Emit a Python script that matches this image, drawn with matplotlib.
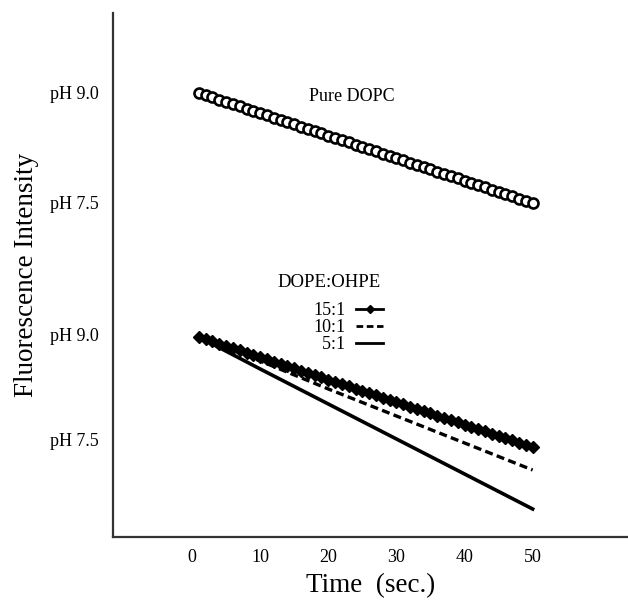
import matplotlib
matplotlib.use("Agg")
import matplotlib.pyplot as plt

plt.rcParams['font.family'] = ['Liberation Serif', 'DejaVu Serif']

# time points (sec.)
time = list(range(1, 51))

# fluorescence traces (arbitrary units)
pure_dopc = [44.4, 44.2, 44.0, 43.7, 43.5, 43.3, 43.1, 42.8, 42.6, 42.4,
             42.2, 41.9, 41.7, 41.5, 41.3, 41.0, 40.8, 40.6, 40.4, 40.1,
             39.9, 39.7, 39.5, 39.2, 39.0, 38.8, 38.6, 38.3, 38.1, 37.9,
             37.7, 37.4, 37.2, 37.0, 36.8, 36.5, 36.3, 36.1, 35.9, 35.6,
             35.4, 35.2, 35.0, 34.7, 34.5, 34.3, 34.1, 33.8, 33.6, 33.4]
ratio_15 = [20.0, 19.8, 19.6, 19.3, 19.1, 18.9, 18.7, 18.4, 18.2, 18.0,
            17.8, 17.5, 17.3, 17.1, 16.9, 16.6, 16.4, 16.2, 16.0, 15.7,
            15.5, 15.3, 15.1, 14.8, 14.6, 14.4, 14.2, 13.9, 13.7, 13.5,
            13.3, 13.0, 12.8, 12.6, 12.4, 12.1, 11.9, 11.7, 11.5, 11.2,
            11.0, 10.8, 10.6, 10.3, 10.1, 9.9, 9.7, 9.4, 9.2, 9.0]
time_sparse = [1, 10, 20, 30, 40, 50]
ratio_10 = [20.0, 17.6, 14.8, 12.1, 9.4, 6.7]
ratio_5 = [20.0, 16.8, 13.3, 9.8, 6.3, 2.8]

xticks = [0, 10, 20, 30, 40, 50]
yticks = [9.7, 20.2, 33.4, 44.4]
ylabels = ['pH 7.5', 'pH 9.0', 'pH 7.5', 'pH 9.0']

fig = plt.figure(figsize=(6.28, 6.01), dpi=100)
ax = fig.add_axes([0.18, 0.1065, 0.82, 0.872])

ax.plot(time, pure_dopc, color='black', lw=2, marker='o', ms=7.2,
        mfc='white', mec='black', mew=1.9)
ax.plot(time, ratio_15, color='black', lw=2, marker='D', ms=6,
        mfc='black', mec='black', label='15:1')
ax.plot(time_sparse, ratio_10, color='black', lw=2.4, ls=(0, (2.4, 1.3)),
        label='10:1')
ax.plot(time_sparse, ratio_5, color='black', lw=2.6, label='  5:1')

ax.text(23.5, 44.0, 'Pure DOPC', fontsize=13, ha='center', va='center')

# legend: title as plain text, entries right-aligned under it
ax.text(20.1, 25.4, 'DOPE:OHPE', fontsize=13.5, ha='center', va='center')
leg = ax.legend(frameon=False, markerfirst=False,
                fontsize=13, handlelength=1.5,
                handletextpad=0.6, labelspacing=0.0, borderpad=0,
                loc='upper right', bbox_to_anchor=(29.4, 24.4),
                bbox_transform=ax.transData)
for h in leg.legend_handles:
    h.set_markersize(4)
    h.set_linewidth(2)

ax.set_xlim(-11.6, 64)
ax.set_ylim(0, 52.4)
ax.set_xticks(xticks)
ax.set_yticks(yticks)
ax.set_yticklabels(ylabels)
ax.tick_params(length=0, labelsize=13)
ax.tick_params(axis='x', pad=9)
ax.tick_params(axis='y', pad=10)

for side in ['top', 'right']:
    ax.spines[side].set_visible(False)
for side in ['left', 'bottom']:
    ax.spines[side].set_linewidth(1.6)
    ax.spines[side].set_color('#333333')

ax.set_xlabel('Time  (sec.)', fontsize=19.5, labelpad=5)
ax.set_ylabel('Fluorescence Intensity', fontsize=19.5, labelpad=8)

fig.savefig('out.png', dpi=100)
